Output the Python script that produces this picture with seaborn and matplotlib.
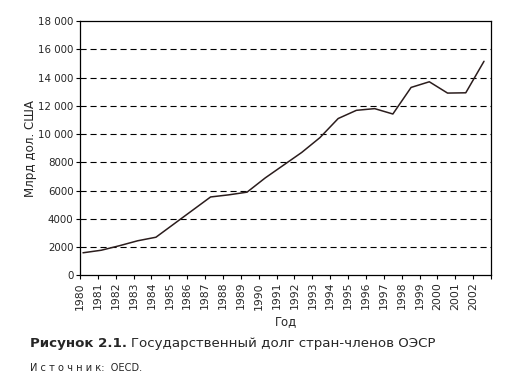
import numpy as np
import pandas as pd
import matplotlib
matplotlib.use("Agg")
import matplotlib.pyplot as plt
import seaborn as sns

# ---- data ----
years = list(range(1980, 2003))
debt = [1600, 1780, 2100, 2450, 2700, 3650, 4600, 5550, 5700, 5890,
        6900, 7800, 8700, 9750, 11100, 11680, 11800, 11420, 13300, 13700,
        12900, 12920, 15150]
year_labels = [str(y) for y in years]
y_ticks = [0, 2000, 4000, 6000, 8000, 10000, 12000, 14000, 16000, 18000]
y_tick_labels = ["0", "2000", "4000", "6000", "8000", "10 000", "12 000",
                 "14 000", "16 000", "18 000"]

df = pd.DataFrame({"Год": years, "Долг": debt})

sns.set_theme(style="white")
plt.rcParams["font.family"] = ["DejaVu Sans"]

fig = plt.figure(figsize=(5.14, 3.83), dpi=100)
ax = fig.add_axes([80 / 514, 1 - 275.4 / 383, 411 / 514, 254.4 / 383])

sns.lineplot(data=df, x="Год", y="Долг", ax=ax, color="#2b1d1d",
             linewidth=1.1, zorder=3)

# x-range: points sit slightly offset from the category ticks, as in the source
px_per_year = 18.23
xmin = 1980 - 3 / px_per_year
xmax = 2002 + 7 / px_per_year
ax.set_xlim(xmin, xmax)
ax.set_ylim(0, 18000)

tick_step = (xmax - xmin) / 23
xt = [xmin + k * tick_step for k in range(24)]
ax.set_xticks(xt)
ax.set_xticklabels(year_labels + [""], rotation=90, fontsize=7.8)
ax.set_yticks(y_ticks)
ax.set_yticklabels(y_tick_labels, fontsize=7.4)

ax.tick_params(axis="both", which="major", direction="out", length=3.2,
               width=0.8, color="black", pad=1.5, bottom=True, left=True)

for yv in y_ticks[1:-1]:
    ax.axhline(yv, color="black", linewidth=0.8, linestyle=(0, (5.5, 3.5)),
               zorder=1)

for s in ax.spines.values():
    s.set_visible(True)
    s.set_color("black")
    s.set_linewidth(0.9)

ax.set_xlabel("Год", fontsize=8.4, labelpad=4)
ax.set_ylabel("Млрд дол. США", fontsize=8.6, labelpad=1)
ax.grid(False)

# caption
fig.canvas.draw()
renderer = fig.canvas.get_renderer()
t1 = fig.text(30 / 514, 1 - 344 / 383, "Рисунок 2.1.", fontsize=9.6,
              fontweight="bold", va="center", ha="left")
bb = t1.get_window_extent(renderer=renderer)
fig.text(bb.x1 / fig.bbox.width + 4 / 514, 1 - 344 / 383,
         "Государственный долг стран-членов ОЭСР", fontsize=9.6,
         va="center", ha="left")
fig.text(30 / 514, 1 - 368 / 383, "И с т о ч н и к:  OECD.", fontsize=7.1,
         va="center", ha="left")

fig.savefig("out.png", dpi=100)
